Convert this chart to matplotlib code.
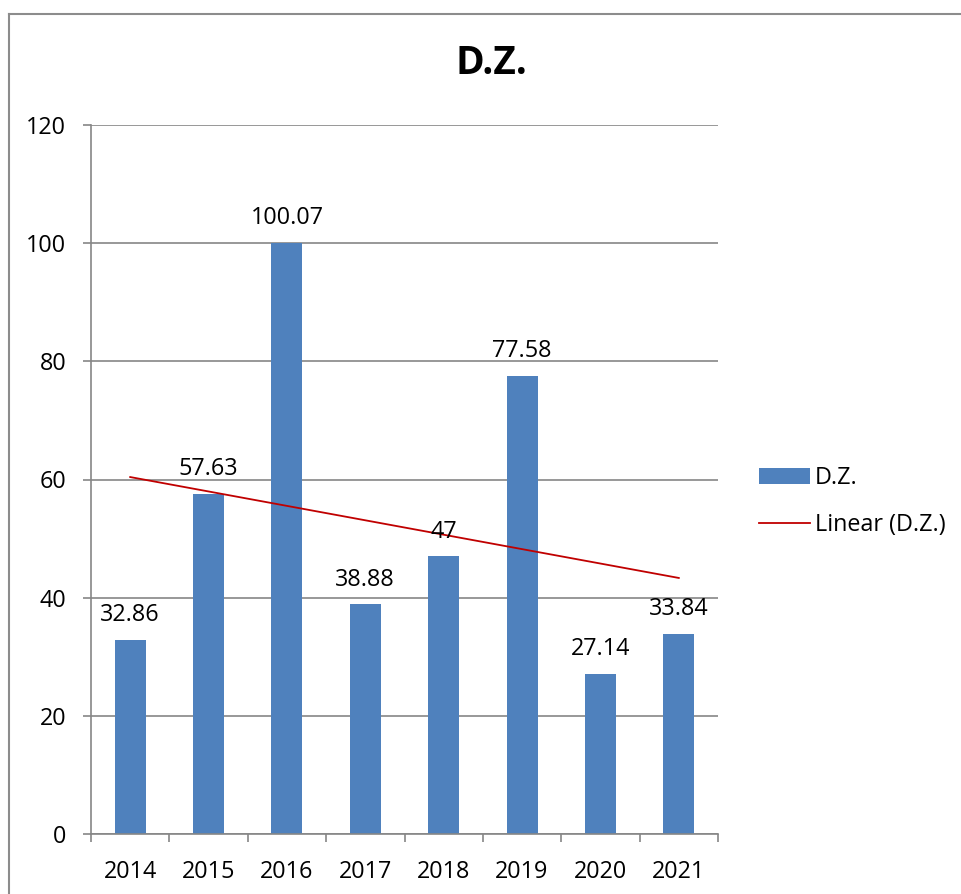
import matplotlib
matplotlib.use("Agg")
import matplotlib.pyplot as plt
from matplotlib.lines import Line2D
from matplotlib.patches import Patch
import numpy as np

years = ["2014", "2015", "2016", "2017", "2018", "2019", "2020", "2021"]
values = [32.86, 57.63, 100.07, 38.88, 47, 77.58, 27.14, 33.84]
labels = ["32.86", "57.63", "100.07", "38.88", "47", "77.58", "27.14", "33.84"]
series_name = "D.Z."
trend_name = "Linear (D.Z.)"

plt.rcParams['font.family'] = ['Open Sans', 'DejaVu Sans']

W, H = 961, 894
fig = plt.figure(figsize=(W / 100, H / 100), dpi=100)
ax = fig.add_axes([91 / W, 1 - 834 / H, (718 - 91) / W, (834 - 125) / H])

bar_color = "#4F81BD"
grid_color = "#868686"
fs = 16.8
x = np.arange(len(years))
ax.bar(x, values, width=0.395, color=bar_color, zorder=2)

# linear trendline
coef = np.polyfit(x, values, 1)
ax.plot(x, np.polyval(coef, x), color="#C00000", lw=1.3, zorder=3)

for xi, v, lab in zip(x, values, labels):
    ax.annotate(lab, (xi, v), xytext=(0, 13.5), textcoords="offset points",
                ha="center", va="baseline", fontsize=fs, color="#000000", zorder=4)

ax.set_xlim(-0.5, len(years) - 0.5)
ax.set_ylim(0, 120)
ax.set_yticks(np.arange(0, 121, 20))
ax.yaxis.grid(True, color=grid_color, lw=1.2)
ax.set_axisbelow(True)

ax.set_xticks(x)
ax.set_xticklabels(years)
ax.set_xticks(np.arange(-0.5, len(years), 1), minor=True)
ax.tick_params(axis="x", which="major", length=0, pad=19, labelsize=fs)
ax.tick_params(axis="x", which="minor", length=5.8, color=grid_color, width=1.2)
ax.tick_params(axis="y", length=5.8, color=grid_color, width=1.2, pad=12, labelsize=fs)

for s in ["top", "right"]:
    ax.spines[s].set_visible(False)
for s in ["left", "bottom"]:
    ax.spines[s].set_color(grid_color)
    ax.spines[s].set_linewidth(1.2)

fig.text(491.5 / W, 1 - 64 / H, "D.Z.", ha="center", va="center",
         fontsize=28, fontweight="bold")

# chart border (clipped at right/bottom)
fig.add_artist(Line2D([8.5 / W, 8.5 / W], [1 - 13.5 / H, 0], color="#8c8c8c", lw=1.5,
                      transform=fig.transFigure))
fig.add_artist(Line2D([8.5 / W, 1], [1 - 13.5 / H, 1 - 13.5 / H], color="#8c8c8c", lw=1.5,
                      transform=fig.transFigure))

handles = [Patch(facecolor=bar_color, edgecolor="none", label=series_name),
           Line2D([], [], color="#C00000", lw=1.3, label=trend_name)]
fig.legend(handles=handles, loc="upper left", bbox_to_anchor=(759 / W, 1 - 466 / H),
           frameon=False, fontsize=fs, handlelength=2.2, handletextpad=0.2,
           borderpad=0, borderaxespad=0, labelspacing=1.0)

fig.savefig("out.png", dpi=100)
